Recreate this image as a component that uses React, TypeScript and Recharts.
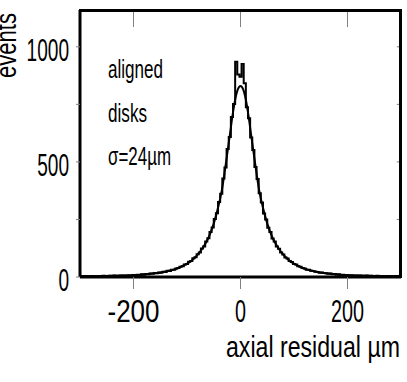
import React from "react";
import { ComposedChart, XAxis, YAxis, Line, ReferenceLine } from "recharts";

// histogram: 4 um bins, centres from -300 to 300
const binStart = -300;
const binWidth = 4;
const histCounts = [
  3, 2, 4, 3, 2, 3, 4, 2, 3, 4, 3, 5, 4, 3, 5, 4, 6, 5, 4, 6, 5, 7, 6, 8, 7,
  9, 8, 10, 9, 12, 10, 13, 12, 15, 14, 17, 16, 20, 19, 23, 22, 27, 26, 31, 32, 37, 39, 45, 47, 54,
  57, 66, 70, 81, 86, 99, 106, 124, 133, 154, 168, 196, 215, 252, 277, 326, 362, 428, 476, 556, 608, 695, 752, 935, 880,
  870,
  925, 842, 738, 690, 606, 552, 478, 426, 364, 324, 276, 250, 214, 195, 167, 154, 132, 123, 106, 98, 85, 80, 70, 65, 57,
  54, 47, 45, 39, 37, 32, 31, 27, 26, 23, 22, 19, 20, 17, 16, 14, 15, 12, 13, 10, 12, 9, 10, 8, 9,
  7, 8, 6, 7, 5, 6, 4, 5, 6, 4, 5, 3, 4, 5, 3, 4, 3, 2, 4, 3, 2, 3, 4, 2, 3,
];

// fitted curve
const fitX = [
  -300, -260, -220, -190, -160, -140, -120, -100, -90, -80, -70, -60, -50, -40, -35, -30, -25, -20, -15, -10, -5,
  0, 5, 10, 15, 20, 25, 30, 35, 40, 50, 60, 70, 80, 90, 100, 120, 140, 160, 190, 220, 260, 300,
];
const fitY = [
  3, 4, 6, 9, 16, 24, 36, 58, 74, 97, 128, 170, 232, 320, 375, 450, 532, 615, 700, 770, 815,
  830, 815, 770, 700, 615, 532, 450, 375, 320, 232, 170, 128, 97, 74, 58, 36, 24, 16, 9, 6, 4, 3,
];

const xDomain = [-300, 300];
const yDomain = [0, 1160];
const xTicks = [-200, 0, 200];
const yTicks = [0, 250, 500, 750, 1000];
const yLabelled = [0, 500, 1000];
const annotation = ["aligned", "disks", "σ=24µm"];
const annotationWidths = [55, 39, 63];

const histData = histCounts.map((y, i) => ({ x: binStart + i * binWidth, y }));
const fitData = fitX.map((x, i) => ({ x, y: fitY[i] }));

const font = "'Liberation Sans', Arial, sans-serif";
const tickGrey = "#808080";
// inward tick lengths on the top / right frame, in data units
const topTickLen = 74;
const rightTickLen = 8;

function XTick(props: any) {
  const { x, y, payload } = props;
  const s = String(payload.value);
  const w = s.length * 11 + (s.startsWith("-") ? 8 : 0);
  return (
    <text x={x - w / 2} y={y + 31} fontFamily={font} fontSize={31} fill="#000"
      textLength={w} lengthAdjust="spacingAndGlyphs">
      {s}
    </text>
  );
}

function YTick(props: any) {
  const { x, y, payload } = props;
  if (!yLabelled.includes(payload.value)) return <g />;
  const s = String(payload.value);
  const w = s.length * 10.6;
  return (
    <text x={x - 5 - w} y={y + 14} fontFamily={font} fontSize={32} fill="#000"
      textLength={w} lengthAdjust="spacingAndGlyphs">
      {s}
    </text>
  );
}

export default function App() {
  return (
    <div style={{ position: "absolute", left: 0, top: 0, width: 407, height: 382, background: "#fff" }}>
      <ComposedChart width={407} height={382} margin={{ top: 10, right: 6, bottom: 0, left: 0 }}>
        <XAxis dataKey="x" type="number" domain={xDomain} ticks={xTicks} interval={0}
          height={105} tickSize={12} tickLine={{ stroke: tickGrey }}
          axisLine={{ stroke: "#000", strokeWidth: 3 }} tick={XTick} />
        <YAxis type="number" domain={yDomain} ticks={yTicks} interval={0} width={80}
          tickSize={4} tickLine={{ stroke: tickGrey }} axisLine={{ stroke: "#000", strokeWidth: 3 }}
          tick={YTick} />
        {xTicks.map((t) => (
          <ReferenceLine key={"tt" + t} segment={[{ x: t, y: yDomain[1] }, { x: t, y: yDomain[1] - topTickLen }]}
            stroke={tickGrey} strokeWidth={1} />
        ))}
        {yTicks.map((t) => (
          <ReferenceLine key={"rt" + t} segment={[{ x: xDomain[1], y: t }, { x: xDomain[1] - rightTickLen, y: t }]}
            stroke={tickGrey} strokeWidth={1} />
        ))}
        <Line data={histData} dataKey="y" type="step" stroke="#000" strokeWidth={2}
          dot={false} isAnimationActive={false} />
        <Line data={fitData} dataKey="y" type="monotone" stroke="#000" strokeWidth={2}
          dot={false} isAnimationActive={false} />
      </ComposedChart>
      {/* top and right edges of the frame box around the plot area */}
      <div style={{
        position: "absolute", left: 79, top: 9, width: 323, height: 269, boxSizing: "border-box",
        borderTop: "3px solid #000", borderRight: "3px solid #000", pointerEvents: "none",
      }} />
      <svg width={407} height={382} style={{ position: "absolute", left: 0, top: 0, pointerEvents: "none" }}>
        <text x={226} y={357} fontFamily={font} fontSize={30} fill="#000"
          textLength={174} lengthAdjust="spacingAndGlyphs">
          axial residual µm
        </text>
        <text transform="translate(16,78) rotate(-90)" fontFamily={font}
          fontSize={30} fill="#000" textLength={65} lengthAdjust="spacingAndGlyphs">
          events
        </text>
        {annotation.map((t, i) => (
          <text key={t} x={108} y={78 + i * 43.5} fontFamily={font} fontSize={25} fill="#000"
            textLength={annotationWidths[i]} lengthAdjust="spacingAndGlyphs">
            {t}
          </text>
        ))}
      </svg>
    </div>
  );
}
